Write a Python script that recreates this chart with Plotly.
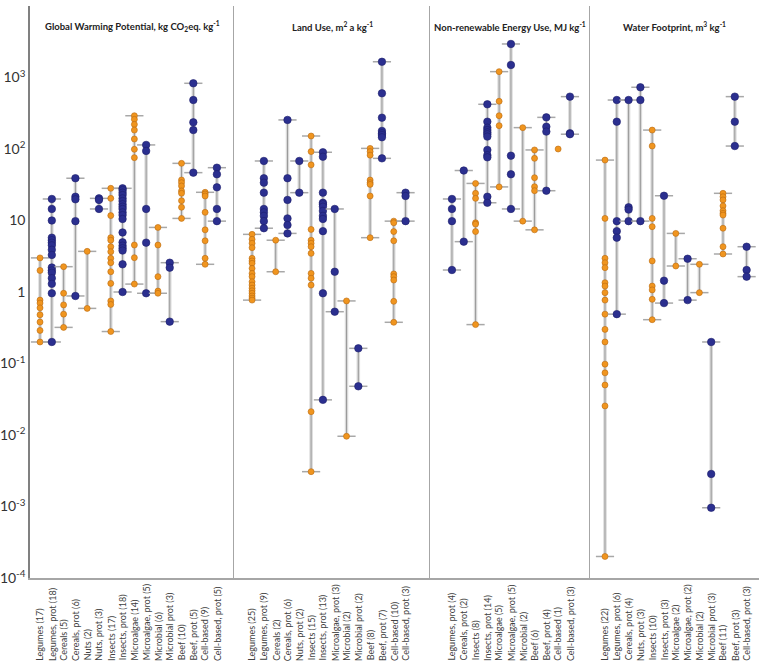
import plotly.graph_objects as go
from plotly.subplots import make_subplots

# Global Warming Potential
gwp_title = "Global Warming Potential, kg CO<sub>2</sub>eq. kg<sup>-1</sup>"
gwp_labels = [
    "Legumes (17)", "Legumes, prot (18)", "Cereals (5)", "Cereals, prot (6)",
    "Nuts (2)", "Nuts, prot (3)", "Insects (17)", "Insects, prot (18)",
    "Microalgae (14)", "Microalgae, prot (5)", "Microbial (6)", "Microbial prot (3)",
    "Beef (10)", "Beef, prot (5)", "Cell-based (9)", "Cell-based, prot (5)",
]
gwp_values = [
    [3.0, 2.0, 0.77, 0.7, 0.6, 0.48, 0.38, 0.29, 0.2],
    [20, 14.5, 10, 5.75, 5.3, 4.9, 4.5, 3.9, 3.3, 2.2, 2.0, 1.86, 1.56, 1.3, 0.96, 0.2],
    [2.26, 0.96, 0.66, 0.49, 0.32],
    [39, 21.5, 19.8, 9.8, 0.88],
    [3.7, 0.59],
    [20.4, 19.4, 14.5],
    [28.2, 20.4, 11.7, 5.75, 5.3, 4.3, 3.66, 2.96, 2.57, 1.92, 1.32, 0.75, 0.67, 0.28],
    [28.2, 26.6, 24.5, 22.7, 20.4, 18.7, 16.9, 15.6, 14.5, 13.0, 11.9, 10.5, 6.8, 4.95, 4.45, 4.1, 3.8, 2.44, 1.0],
    [292, 260, 221, 184, 138, 99, 75.7, 4.54, 3.02, 1.29],
    [114, 94, 14.5, 4.9, 0.96],
    [8.0, 4.54, 1.64, 1.03, 0.96],
    [2.57, 2.19, 0.385],
    [63, 36.8, 33.8, 30.4, 25.9, 24, 18.9, 15.3, 10.7],
    [830, 484, 236, 184, 46.7],
    [24.8, 23.5, 22, 13.0, 7.4, 5.2, 2.96, 2.44],
    [54.8, 44.3, 29.1, 14.5, 9.8],
]

# Land Use
lu_title = "Land Use, m<sup>2</sup> a kg<sup>-1</sup>"
lu_labels = [
    "Legumes (25)", "Legumes, prot (9)", "Cereals (2)", "Cereals, prot (6)",
    "Nuts, prot (2)", "Insects (15)", "Insects, prot (13)", "Microalgae, prot (3)",
    "Microbial (2)", "Microbial prot (2)", "Beef (8)", "Beef, prot (7)",
    "Cell-based (10)", "Cell-based, prot (3)",
]
lu_values = [
    [6.4, 5.46, 4.8, 4.17, 2.96, 2.72, 2.52, 2.14, 1.82, 1.64, 1.39, 1.25, 1.13, 1.04, 0.96, 0.88, 0.82, 0.77],
    [68, 39, 33.8, 24.5, 14.5, 13.0, 11.6, 9.8, 7.8],
    [5.3, 1.92],
    [255, 39, 19.4, 10.7, 8.65, 6.6],
    [68, 24.5],
    [152, 92, 60, 7.5, 5.3, 4.8, 4.3, 3.47, 1.82, 1.56, 1.25, 0.0212, 0.00307],
    [90, 78, 24.5, 17.7, 16.9, 15.6, 13.6, 11.6, 10.5, 7.1, 0.96, 0.031],
    [14.5, 1.92, 0.53],
    [0.75, 0.0096],
    [0.163, 0.048],
    [102, 92, 82, 36.8, 33.8, 32, 22, 5.75],
    [1660, 601, 274, 179, 166, 157, 146, 74],
    [9.8, 9.3, 7.0, 5.2, 1.79, 1.64, 1.47, 0.74, 0.377],
    [24.5, 22, 9.8],
]

# Non-renewable Energy Use
nre_title = "Non-renewable Energy Use, MJ kg<sup>-1</sup>"
nre_labels = [
    "Legumes, prot (4)", "Cereals, prot (2)", "Insects (8)", "Insects, prot (14)",
    "Microalgae (5)", "Microalgae, prot (5)", "Microbial (2)", "Beef (6)",
    "Beef, prot (4)", "Cell-based (1)", "Cell-based, prot (3)",
]
nre_values = [
    [20, 14.5, 9.8, 2.03],
    [50, 5.06],
    [33, 24, 20.4, 9.3, 8.9, 7.0, 0.35],
    [422, 241, 199, 184, 171, 161, 149, 97, 82, 76.5, 21.5, 17.7],
    [1208, 465, 292, 212, 29.5],
    [2944, 1496, 80.6, 44.3, 14.5],
    [199, 9.8],
    [97, 74, 39.7, 29.7, 26.1, 7.4],
    [277, 205, 175, 26.1],
    [100],
    [540, 166, 161],
]

# Water Footprint
wf_title = "Water Footprint, m<sup>3</sup> kg<sup>-1</sup>"
wf_labels = [
    "Legumes (22)", "Legumes, prot (6)", "Cereals, prot (4)", "Nuts, prot (3)",
    "Insects (10)", "Insects, prot (3)", "Microalgae (2)", "Microalgae, prot (2)",
    "Microbial (2)", "Microbial prot (3)", "Beef (11)", "Beef, prot (3)",
    "Cell-based, prot (3)",
]
wf_values = [
    [70, 10.7, 2.96, 2.57, 2.19, 1.35, 1.21, 0.98, 0.77, 0.49, 0.3, 0.2, 0.098, 0.074, 0.05, 0.0255, 0.0002],
    [484, 241, 9.8, 7.1, 5.75, 0.49],
    [484, 15.3, 14.2, 9.8],
    [730, 484, 9.8],
    [184, 110, 10.7, 8.2, 2.72, 1.21, 1.07, 0.79, 0.41],
    [22.2, 1.44, 0.70],
    [6.6, 2.31],
    [2.92, 0.77],
    [2.44, 0.98],
    [0.2, 0.00285, 0.00096],
    [24, 21.5, 19.4, 16, 13.7, 12.6, 11.9, 7.8, 4.3, 3.4],
    [540, 241, 110],
    [4.3, 2.03, 1.64],
]

y_tickvals = [1e-4, 1e-3, 1e-2, 1e-1, 1, 10, 1e2, 1e3, 1e4]
y_ticktext = ["10<sup>-4</sup>", "10<sup>-3</sup>", "10<sup>-2</sup>", "10<sup>-1</sup>",
              "1", "10", "10<sup>2</sup>", "10<sup>3</sup>", "10<sup>4</sup>"]

panels = [
    (gwp_title, gwp_labels, gwp_values, [-0.85, 16.45]),
    (lu_title, lu_labels, lu_values, [-1.53, 15.07]),
    (nre_title, nre_labels, nre_values, [-1.86, 11.7]),
    (wf_title, wf_labels, wf_values, [-1.27, 13.05]),
]

ORANGE = "#f0951f"
BLUE = "#2b2f8f"
FONT = "Lato, Carlito, sans-serif"

fig = make_subplots(rows=1, cols=4, shared_yaxes=True, horizontal_spacing=0,
                    column_widths=[204, 196, 160, 169])

for col, (title, labels, values, xr) in enumerate(panels, start=1):
    xname = "x" if col == 1 else f"x{col}"
    for lab, vals in zip(labels, values):
        prot = "prot" in lab
        if len(vals) > 1:
            # min-max range line with caps
            fig.add_trace(go.Scatter(
                x=[lab, lab], y=[min(vals), max(vals)],
                mode="lines", line=dict(color="#dadada", width=3.5),
                hoverinfo="skip", showlegend=False), row=1, col=col)
            fig.add_trace(go.Scatter(
                x=[lab, lab], y=[min(vals), max(vals)],
                mode="lines+markers", line=dict(color="#9a9a9a", width=1),
                marker=dict(symbol="line-ew", size=13, line=dict(color="#a8a8a8", width=1.5)),
                hoverinfo="skip", showlegend=False), row=1, col=col)
        fig.add_trace(go.Scatter(
            x=[lab] * len(vals), y=vals, mode="markers",
            marker=dict(color=BLUE if prot else ORANGE,
                        size=7.5 if prot else 6,
                        line=dict(color="#1c1f6b" if prot else "#b86a10", width=0.6)),
            name=lab, showlegend=False), row=1, col=col)
        # category label, rotated and aligned at its start (bottom)
        fig.add_annotation(
            text=lab, x=lab, xref=xname, y=-0.148, yref="paper",
            textangle=-90, xanchor="center", yanchor="bottom", showarrow=False,
            font=dict(family=FONT, size=9, color="#404040"))

    fig.update_xaxes(
        type="category", categoryorder="array", categoryarray=labels,
        range=xr, ticks="", showticklabels=False, showgrid=False, automargin=False,
        showline=True, linecolor="#a6a6a6", linewidth=1.5,
        row=1, col=col)
    fig.update_yaxes(
        type="log", range=[-4, 4], showgrid=False, zeroline=False, ticks="",
        automargin=False,
        showline=True, linecolor="#808080" if col == 1 else "#a6a6a6",
        linewidth=1.5 if col == 1 else 1,
        tickvals=y_tickvals, ticktext=y_ticktext, showticklabels=(col == 1),
        tickfont=dict(family=FONT, size=14, color="#333333"),
        row=1, col=col)

    fig.add_annotation(
        text=f"<b>{title}</b>", xref=f"{xname} domain", yref="paper",
        x=0.5, y=0.965, xanchor="center", yanchor="middle", showarrow=False,
        font=dict(family=FONT, size=9.5, color="#222222"))

fig.update_layout(
    width=759, height=665,
    margin=dict(l=30, r=0, t=6, b=87),
    plot_bgcolor="white", paper_bgcolor="white",
    showlegend=False,
)

# drop the browser's default page margin so the figure sits at the window corner
fig.write_html("out.html", config={"displayModeBar": False},
               post_script="document.body.style.margin='0';")
